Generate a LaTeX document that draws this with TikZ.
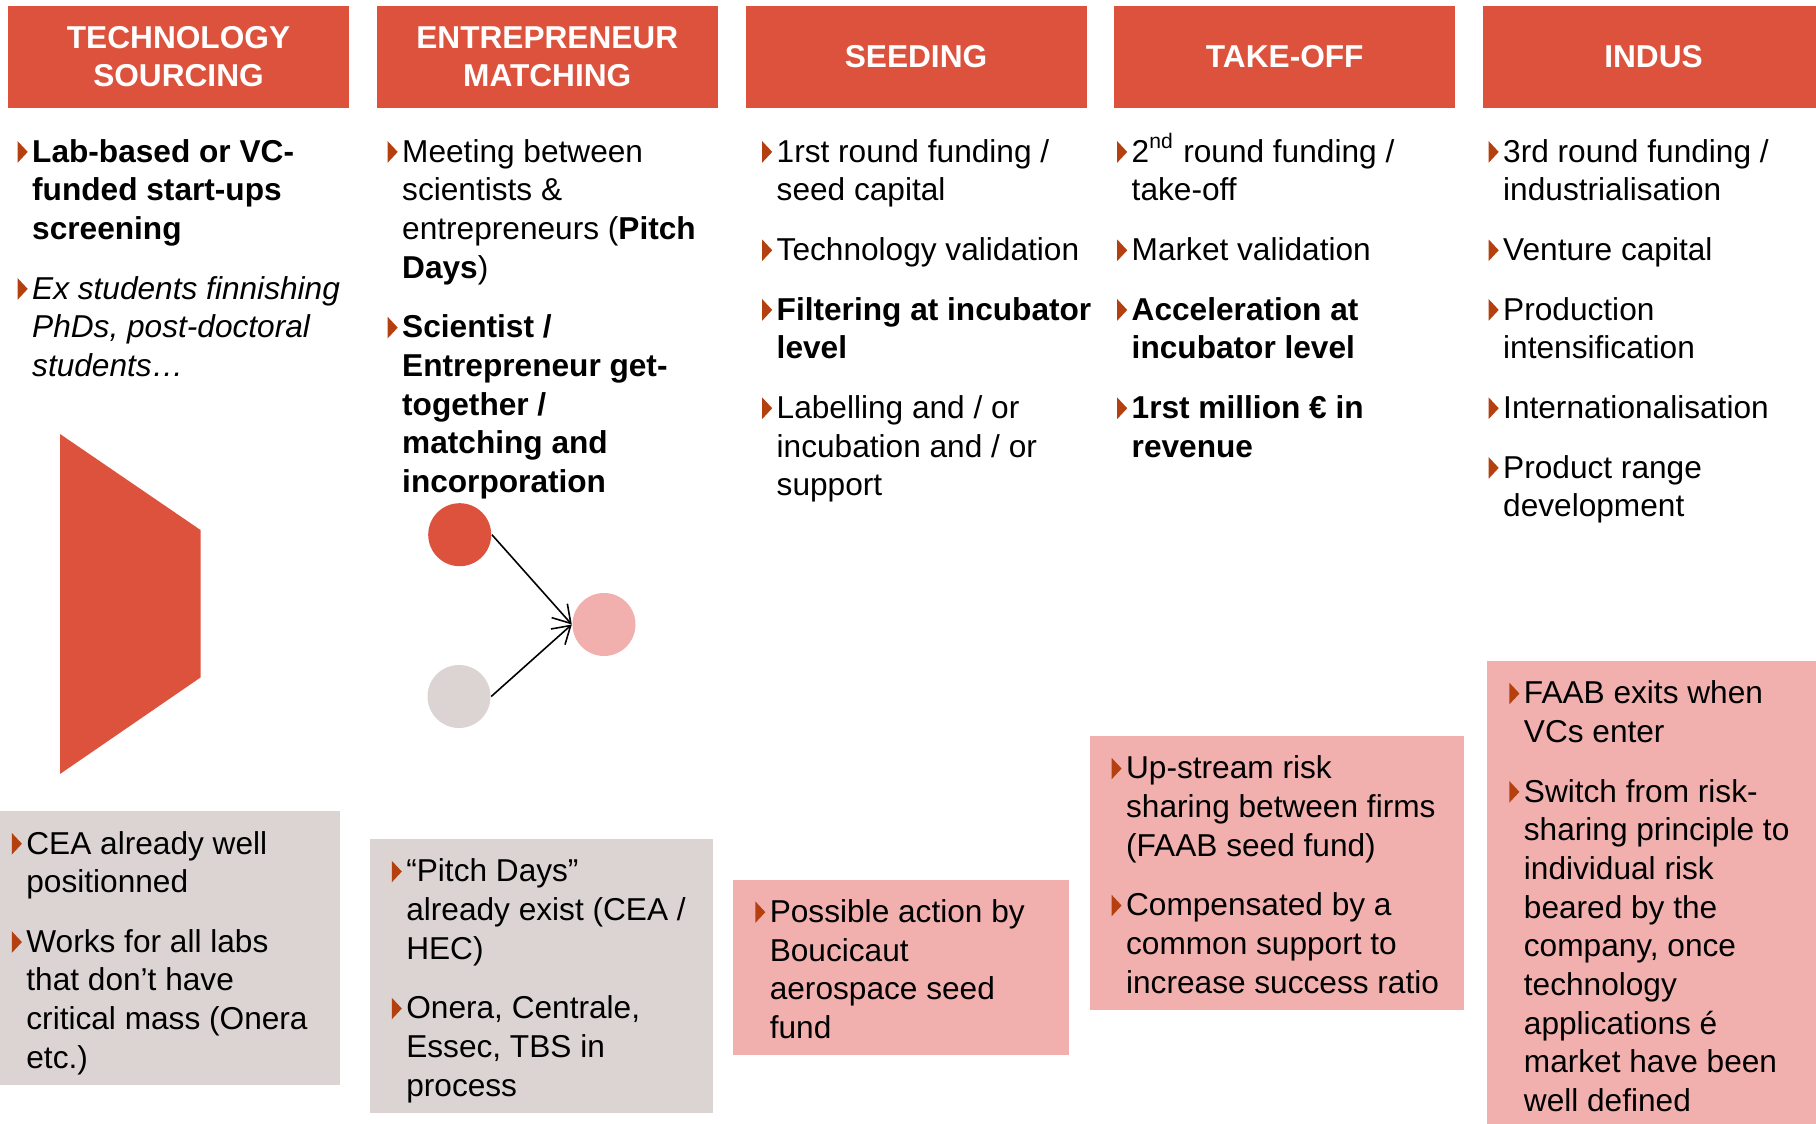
\documentclass[tikz,border=0pt]{standalone}
\usepackage{fontspec}
\setmainfont{Liberation Sans}
\usetikzlibrary{positioning,arrows.meta}

\definecolor{hdred}{HTML}{DD523C}
\definecolor{boxpink}{HTML}{F1B0AE}
\definecolor{boxgrey}{HTML}{DBD4D3}
\definecolor{bulred}{HTML}{B5400F}

\newcommand\bodyfont{\fontsize{9}{11}\selectfont}
\newcommand\hdfont{\fontsize{9}{10.8}\selectfont\bfseries}
\newlength\bulind
\setlength\bulind{0.145cm}
% small triangle bullet and a hanging item
\newcommand\bul{\tikz[baseline=0pt]\fill[bulred](0,-0.005)--(0,0.21)--(0.1,0.1025)--cycle;}
\newcommand\itm{\par\addvspace{0.21cm}\hangindent=\bulind\hangafter=1\noindent\makebox[\bulind][l]{\bul}}
\newcommand\blist[1]{\begin{minipage}[t]{3.6cm}\bodyfont\raggedright#1\end{minipage}}

\begin{document}
\begin{tikzpicture}[>={Straight Barb[length=1.7mm,width=2.1mm]},
    hdr/.style={fill=hdred,text=white,font=\hdfont,align=center,inner sep=0pt,outer sep=0pt,
      minimum width=3.41cm,minimum height=1.02cm,anchor=north west},
    lst/.style={anchor=base west,inner sep=0pt},
    dot/.style={circle,minimum size=0.63cm,inner sep=0pt}]
        \useasboundingbox(0,0)rectangle(18.16,-11.24);
        \clip(0,0)rectangle(18.16,-11.24);

        % stage headers
        \node[hdr](h1)at(0.08,-0.058){TECHNOLOGY\\SOURCING};
        \node[hdr,right=0.2775cm of h1](h2){ENTREPRENEUR\\MATCHING};
        \node[hdr,right=0.2775cm of h2](h3){SEEDING};
        \node[hdr,right=0.2775cm of h3](h4){TAKE-OFF};
        \node[hdr,right=0.2775cm of h4](h5){INDUS};

        % stage contents
        \node[lst](t1)at(0.17,-1.622){\blist{%
          \itm\textbf{Lab-based or VC-\newline funded start-ups\newline screening}
          \itm\textit{Ex students finnishing\newline PhDs, post-doctoral\newline students…}}};
        \node[lst](t2)at(3.87,-1.622){\blist{%
          \itm Meeting between\newline scientists \&\newline entrepreneurs (\textbf{Pitch}\newline\textbf{Days})
          \itm\textbf{Scientist /\newline Entrepreneur get-\newline together /\newline matching and\newline incorporation}}};
        \node[lst](t3)at(7.615,-1.622){\blist{%
          \itm 1rst round funding /\newline seed capital
          \itm Technology validation
          \itm\textbf{Filtering at incubator\newline level}
          \itm Labelling and / or\newline incubation and / or\newline support}};
        \node[lst](t4)at(11.165,-1.622){\blist{%
          \itm 2\textsuperscript{nd} round funding /\newline take-off
          \itm Market validation
          \itm\textbf{Acceleration at\newline incubator level}
          \itm\textbf{1rst million € in\newline revenue}}};
        \node[lst](t5)at(14.88,-1.622){\blist{%
          \itm 3rd round funding /\newline industrialisation
          \itm Venture capital
          \itm Production\newline intensification
          \itm Internationalisation
          \itm Product range\newline development}};

        % sourcing funnel
        \fill[hdred](0.60,-4.34)--(2.005,-5.30)--(2.005,-6.775)--(0.60,-7.74)--cycle;

        % matching
        \node[dot,fill=hdred](sci)at(4.597,-5.347){};
        \node[dot,fill=boxgrey](ent)at(4.59,-6.965){};
        \node[dot,fill=boxpink](pair)at(6.04,-6.245){};
        \draw[->,line width=0.45pt](sci.east)--(pair.west);
        \draw[->,line width=0.45pt](ent.east)--(pair.west);

        % remarks
        \fill[boxgrey](0,-8.115)rectangle(3.40,-10.85);
        \fill[boxgrey](3.70,-8.395)rectangle(7.125,-11.13);
        \fill[boxpink](7.33,-8.80)rectangle(10.685,-10.55);
        \fill[boxpink](10.90,-7.365)rectangle(14.64,-10.10);
        \fill[boxpink](14.87,-6.607)rectangle(18.16,-11.24);

        \node[lst](r1)at(0.112,-8.54){\blist{%
          \itm CEA already well\newline positionned
          \itm Works for all labs\newline that don’t have\newline critical mass (Onera\newline etc.)}};
        \node[lst](r2)at(3.911,-8.818){\blist{%
          \itm “Pitch Days”\newline already exist (CEA /\newline HEC)
          \itm Onera, Centrale,\newline Essec, TBS in\newline process}};
        \node[lst](r3)at(7.546,-9.224){\blist{%
          \itm Possible action by\newline Boucicaut\newline aerospace seed\newline fund}};
        \node[lst](r4)at(11.109,-7.788){\blist{%
          \itm Up-stream risk\newline sharing between firms\newline (FAAB seed fund)
          \itm Compensated by a\newline common support to\newline increase success ratio}};
        \node[lst](r5)at(15.087,-7.038){\blist{%
          \itm FAAB exits when\newline VCs enter
          \itm Switch from risk-\newline sharing principle to\newline individual risk\newline beared by the\newline company, once\newline technology\newline applications é\newline market have been\newline well defined}};
    \end{tikzpicture}
\end{document}
